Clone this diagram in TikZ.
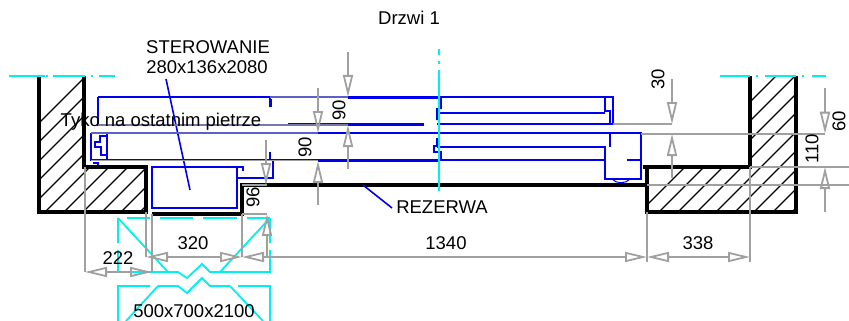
\documentclass[tikz,border=0pt]{standalone}
\usepackage{fontspec}
\setmainfont{Liberation Sans}
\usetikzlibrary{arrows.meta}
\definecolor{dimgray}{RGB}{160,160,160}
\definecolor{doorblue}{RGB}{0,0,240}
\definecolor{axiscyan}{RGB}{0,240,240}
\definecolor{slategray}{RGB}{120,120,170}
\definecolor{slateblue}{RGB}{95,95,200}
\tikzset{
  wall/.style={black,line width=4pt,line join=miter},
  hatchline/.style={black,line width=1.1pt},
  door/.style={doorblue,line width=1.9pt},
  doorthick/.style={doorblue,line width=2.9pt},
  axis/.style={axiscyan,line width=1.9pt},
  shaft/.style={axiscyan,line width=1.8pt},
  dim/.style={dimgray,line width=1.8pt},
  tipend/.style={-{Triangle[open,length=22pt,width=10pt]}},
  tipboth/.style={{Triangle[open,length=22pt,width=10pt]}-{Triangle[open,length=22pt,width=10pt]}},
  lbl/.style={font=\fontsize{18.5pt}{20pt}\selectfont,inner sep=0pt,black},
  vlbl/.style={lbl,rotate=90}
}
\begin{document}
\begin{tikzpicture}[x=1pt,y=-1pt]
\useasboundingbox (0,0) rectangle (849,321);
\fill[white] (0,0) rectangle (849,321);
% hatching
\begin{scope}
\clip (39,76) -- (84,76) -- (84,167) -- (146,167) -- (146,212) -- (39,212) -- cycle;
\foreach \s in {100,119,...,370} \draw[hatchline] (\s-150,212) -- (\s,62);
\end{scope}
\begin{scope}
\clip (750,76) -- (796,76) -- (796,212) -- (647,212) -- (647,167) -- (750,167) -- cycle;
\foreach \s in {640,659,...,960} \draw[hatchline] (\s,212) -- (\s+150,62);
\end{scope}
% shaft symbol
\draw[shaft] (118,218) -- (118,243) (118,250) -- (118,272) -- (178,272) -- (187,278) -- (202,264) -- (210,272) -- (270,272) -- (270,250) (270,243) -- (270,218);
\draw[shaft] (127,218) -- (150,218) (160,218) -- (193,218) (203,218) -- (237,218) (247,218) -- (270,218);
\draw[shaft] (118,218) -- (168,272) (270,218) -- (220,272);
\draw[shaft] (118,321) -- (118,286) -- (150,286) (158,286) -- (178,286) -- (187,293) -- (202,278) -- (210,286) -- (230,286) (238,286) -- (270,286) -- (270,321);
\draw[shaft] (158,286) -- (126,321) (230,286) -- (263,321);
% walls
\draw[wall] (39,76) -- (39,212) -- (146,212) -- (146,167) -- (84,167) -- (84,76);
\draw[wall] (152,214) -- (242,214) -- (242,185) -- (647,185);
\draw[wall] (643,167) -- (750,167) -- (750,76);
\draw[wall] (796,76) -- (796,212) -- (647,212) -- (647,167);
% door blue lines
\draw[door] (270,107) -- (270,97) -- (613,97) -- (613,124) -- (610,124) -- (437,124);
\draw[door] (98,97) -- (270,97);
\draw[door] (98,97) -- (98,125) -- (270,125);
\draw[door] (91,133) -- (641,133) -- (641,179) -- (605,179) -- (605,147) -- (437,147);
\draw[door] (91,133) -- (91,160) -- (605,160);
\draw[door] (627,160) -- (641,160);
\draw[door] (610,133) -- (610,147);
\draw[door] (605,97) -- (605,111) -- (610,111) -- (610,124);
\draw[door] (437,113) -- (605,113);
\draw[doorblue,line width=1pt] (612,179) .. controls (616,184) and (626,184) .. (630,179);
\draw[doorthick] (348,97.3) -- (440,97.3);
\draw[doorthick] (288,124.3) -- (424,124.3);
\draw[doorthick] (318,160.4) -- (440,160.4);
% centre jogs
\draw[door] (441,97) -- (441,108) -- (437,109) -- (437,120);
\draw[door] (437,138) -- (437,146) -- (434,146) -- (434,152) -- (441,152) -- (441,160);
% left hook
\draw[door] (107,134) -- (107,159);
\draw[door] (106,136) -- (100,136) -- (100,142) -- (95,142) -- (95,147) -- (101,147) -- (101,155) -- (107,155);
\draw[door] (93,163) -- (98,163) -- (98,165);
% middle hooks
\draw[door] (271,99) -- (271,107);
\draw[door] (270,152) -- (270,160);
% control box
\draw[door] (243,171) -- (243,167) -- (237,167) -- (237,208) -- (152,208) -- (152,167) -- (237,167);
\draw[door] (238,178) -- (273,178) -- (273,160);
% leaders
\draw[doorblue,line width=1.6pt] (166,79) -- (190,190);
\draw[doorblue,line width=1.6pt] (363,185) -- (392,208);
% axes
\draw[axis] (9,76) -- (45,76) (46,76) -- (48,76) (53,76) -- (85,76) (91,76) -- (93,76) (99,76) -- (115,76);
\draw[axis] (720,76) -- (750,76) (756,76) -- (758,76) (765,76) -- (796,76) (802,76) -- (804,76) (812,76) -- (826,76);
\draw[axis] (439,49) -- (439,55) (439,61) -- (439,64) (439,70) -- (439,191);
% gray extension lines
\draw[dim,slateblue] (270,97.3) -- (348,97.3);
\draw[dim,slategray] (98,125) -- (348,125);
\draw[dim,slateblue] (91,133) -- (318,133);
\draw[dim] (91,160.5) -- (318,160.5);
\draw[dim] (613,124) -- (672,124);
\draw[dim] (641,133.7) -- (825,133.7);
\draw[dim] (750,167) -- (849,167);
\draw[dim] (647,185) -- (849,185);
\draw[dim] (85,167) -- (85,272);
\draw[dim] (152,214) -- (152,272);
\draw[dim] (146,212) -- (146,257);
\draw[dim] (242,214) -- (242,257);
\draw[dim] (647,212) -- (647,262);
\draw[dim] (750,167) -- (750,262);
\draw[dim] (242,185) -- (267,185);
\draw[dim] (242,214) -- (267,214);
% gray dimensions
\draw[dim,tipboth] (85,272) -- (152,272);
\draw[dim,tipboth] (146,257) -- (242,257);
\draw[dim,tipboth] (242,257) -- (647,257);
\draw[dim,tipboth] (647,257) -- (750,257);
\draw[dim,tipend] (348,52) -- (348,97);
\draw[dim,tipend] (348,169) -- (348,125);
\draw[dim,tipend] (318,88) -- (318,133);
\draw[dim,tipend] (318,205) -- (318,161);
\draw[dim,tipend] (266,140) -- (266,185);
\draw[dim,tipend] (267,257) -- (267,214);
\draw[dim,tipend] (672,79) -- (672,124);
\draw[dim,tipend] (672,178) -- (672,134);
\draw[dim,tipend] (825,88) -- (825,133.7);
\draw[dim,tipend] (825,212) -- (825,167);
% labels
\node[lbl] (drzwi) at (409,18) {Drzwi 1};
\node[lbl] (ster) at (208,47) {STEROWANIE};
\node[lbl] (wym) at (207,67) {280x136x2080};
\node[lbl] (tylko) at (161,122) {Tyko na ostatnim pietrze};
\node[lbl] (rez) at (442,207) {REZERWA};
\node[lbl] (a320) at (193,243) {320};
\node[lbl] (a222) at (118,258) {222};
\node[lbl] (a1340) at (446,243) {1340};
\node[lbl] (a338) at (698,243) {338};
\node[lbl] (szyb) at (194,311.5) {500x700x2100};
\node[vlbl] (v90a) at (339,110) {90};
\node[vlbl] (v90b) at (305,147) {90};
\node[vlbl] (v96) at (253,197) {96};
\node[vlbl] (v30) at (658,79) {30};
\node[vlbl] (v60) at (839,121) {60};
\node[vlbl] (v110) at (812,149) {110};
\end{tikzpicture}
\end{document}
